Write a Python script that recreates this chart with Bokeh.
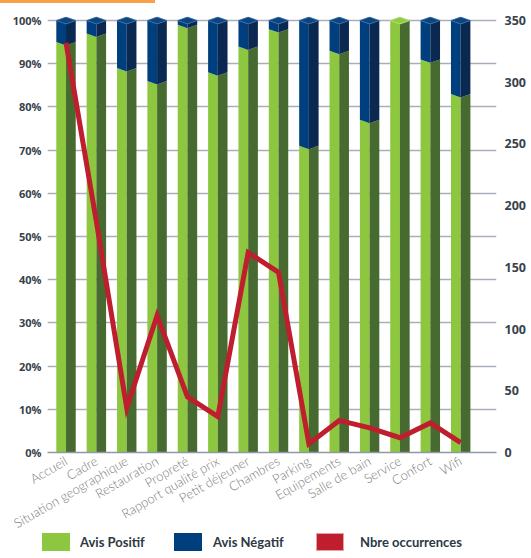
import math
from bokeh.plotting import figure
from bokeh.layouts import column
from bokeh.models import ColumnDataSource, Range1d, LinearAxis, FixedTicker, Div
from bokeh.embed import file_html
from bokeh.resources import INLINE

# ---------------- data ----------------
categories = ["Accueil", "Cadre", "Situation geographique", "Restauration", "Propreté",
              "Rapport qualité prix", "Petit déjeuner", "Chambres", "Parking",
              "Equipements", "Salle de bain", "Service", "Confort", "Wifi"]
avis_positif = [95, 97, 89, 86, 99, 88, 94, 98, 71, 93, 77, 100, 91, 83]
avis_negatif = [5, 3, 11, 14, 1, 12, 6, 2, 29, 7, 23, 0, 9, 17]
occurrences = [332, 187, 36, 111, 45, 29, 162, 146, 7, 26, 20, 12, 24, 8]
pct_ticks = [0, 10, 20, 30, 40, 50, 60, 70, 80, 90, 100]
occ_ticks = [0, 50, 100, 150, 200, 250, 300, 350]
series_names = ["Avis Positif", "Avis Négatif", "Nbre occurrences"]

# ---------------- style ----------------
GREEN_L = "#8dc63f"
GREEN_D = "#476a30"
BLUE_L = "#003f7e"
BLUE_D = "#0a2850"
RED = "#be1e2d"
GRID = "#a7b0ba"
TXT = "#38424c"
HALF = 0.32      # half bar width (category units)
DEPTH = 0.8      # 3D perspective offset (percent units)
TOP_PAD = 0.93   # room above 100% for bar caps

p = figure(frame_width=449, frame_height=436, output_backend="svg", toolbar_location=None,
           x_range=Range1d(-0.61, 14.18), y_range=Range1d(0, 100 + TOP_PAD),
           min_border_left=47, min_border_right=35, min_border_top=13,
           min_border_bottom=60, background_fill_color="white",
           border_fill_color="white", outline_line_color=None)
p.extra_y_ranges = {"occ": Range1d(0, 350 * (100 + TOP_PAD) / 100)}

# ---------------- axes ----------------
xa = p.xaxis[0]
xa.ticker = FixedTicker(ticks=list(range(len(categories))))
xa.major_label_overrides = {i: c for i, c in enumerate(categories)}
xa.major_label_orientation = math.pi / 6
xa.major_label_text_font = "Lato Light"
xa.major_label_text_font_size = "13px"
xa.major_label_text_color = "#7a7a7a"
xa.major_label_standoff = 1
xa.major_tick_line_color = None
xa.minor_tick_line_color = None
xa.axis_line_color = "#8f99a3"
xa.axis_line_width = 1.5

ya = p.yaxis[0]
ya.ticker = FixedTicker(ticks=pct_ticks)
ya.major_label_overrides = {t: f"{t}%" for t in pct_ticks}
ya.major_label_text_font = "Open Sans"
ya.major_label_text_font_style = "bold"
ya.major_label_text_font_size = "11px"
ya.major_label_text_color = TXT
ya.major_label_standoff = 0
ya.axis_line_color = None
ya.major_tick_line_color = None
ya.minor_tick_line_color = None

ra = LinearAxis(y_range_name="occ", ticker=FixedTicker(ticks=occ_ticks))
ra.major_label_text_font = "Open Sans"
ra.major_label_text_font_style = "bold"
ra.major_label_text_font_size = "12.5px"
ra.major_label_text_color = TXT
ra.major_label_standoff = 2
ra.axis_line_color = None
ra.major_tick_line_color = None
ra.minor_tick_line_color = None
p.add_layout(ra, "right")

p.xgrid.visible = False
p.ygrid.ticker = FixedTicker(ticks=pct_ticks)
p.ygrid.grid_line_color = GRID
p.ygrid.grid_line_width = 1.5

# ---------------- 3D bars ----------------
faces = {k: ([], []) for k in ("gl", "gd", "bl", "bd")}
caps_x, caps_y, caps_fill, caps_line = [], [], [], []
for i, (pos, neg) in enumerate(zip(avis_positif, avis_negatif)):
    xl, xc, xr = i - HALF, i, i + HALF
    top = pos + neg
    faces["gl"][0].append([xl, xl, xc, xc]); faces["gl"][1].append([0, pos, pos - DEPTH, 0])
    faces["gd"][0].append([xc, xc, xr, xr]); faces["gd"][1].append([0, pos - DEPTH, pos, 0])
    if neg > 0:
        faces["bl"][0].append([xl, xl, xc, xc]); faces["bl"][1].append([pos, top, top - DEPTH, pos - DEPTH])
        faces["bd"][0].append([xc, xc, xr, xr]); faces["bd"][1].append([pos - DEPTH, top - DEPTH, top, pos])
    caps_x.append([xl, xc, xr, xc])
    caps_y.append([top, top + DEPTH, top, top - DEPTH])
    caps_fill.append("#0b4582" if neg > 0 else "#93ca46")
    caps_line.append("#3c6fa6" if neg > 0 else "#b4dc7c")

p.patches(xs=faces["gl"][0], ys=faces["gl"][1], fill_color=GREEN_L, line_color=None)
p.patches(xs=faces["gd"][0], ys=faces["gd"][1], fill_color=GREEN_D, line_color=None)
p.patches(xs=faces["bl"][0], ys=faces["bl"][1], fill_color=BLUE_L, line_color=None)
p.patches(xs=faces["bd"][0], ys=faces["bd"][1], fill_color=BLUE_D, line_color=None)
cap_src = ColumnDataSource(dict(xs=caps_x, ys=caps_y, fc=caps_fill, lc=caps_line))
p.patches(xs="xs", ys="ys", fill_color="fc", line_color="lc", line_width=0.8, source=cap_src)

# ---------------- occurrences line ----------------
line_src = ColumnDataSource(dict(x=list(range(len(categories))), y=occurrences))
p.line(x="x", y="y", source=line_src, y_range_name="occ", line_color=RED,
       line_width=5, line_join="miter")

# ---------------- legend (HTML row under the chart) ----------------
def swatch(color, left, border="none"):
    return (f'<span style="display:inline-block;box-sizing:border-box;width:28px;height:18px;'
            f'background:{color};border:{border};margin-left:{left}px"></span>')

def label(text, left, width):
    return (f'<span style="display:inline-block;margin-left:{left}px;width:{width}px;'
            f'white-space:nowrap">{text}</span>')

legend_html = (
    '<div style="display:flex;align-items:center;height:18px;font-family:Lato,sans-serif;'
    'font-weight:bold;font-size:13px;color:#2d3843;line-height:18px">'
    + swatch(GREEN_L, 42) + label(series_names[0], 10, 94)
    + swatch(BLUE_L, 0) + label(series_names[1], 11, 103)
    + swatch(RED, 0, "1px solid #e6a0a8") + label(series_names[2], 16, 150)
    + '</div>'
)
legend_div = Div(text=legend_html, width=531, height=18, margin=0,
                 styles={"transform": "translateY(-8px)"})

# orange header strip
strip = Div(text="", width=155, height=3, margin=0,
            styles={"background-color": "#f7a14b"})

open("out.html", "w").write(file_html(column(strip, p, legend_div, spacing=0), INLINE))
